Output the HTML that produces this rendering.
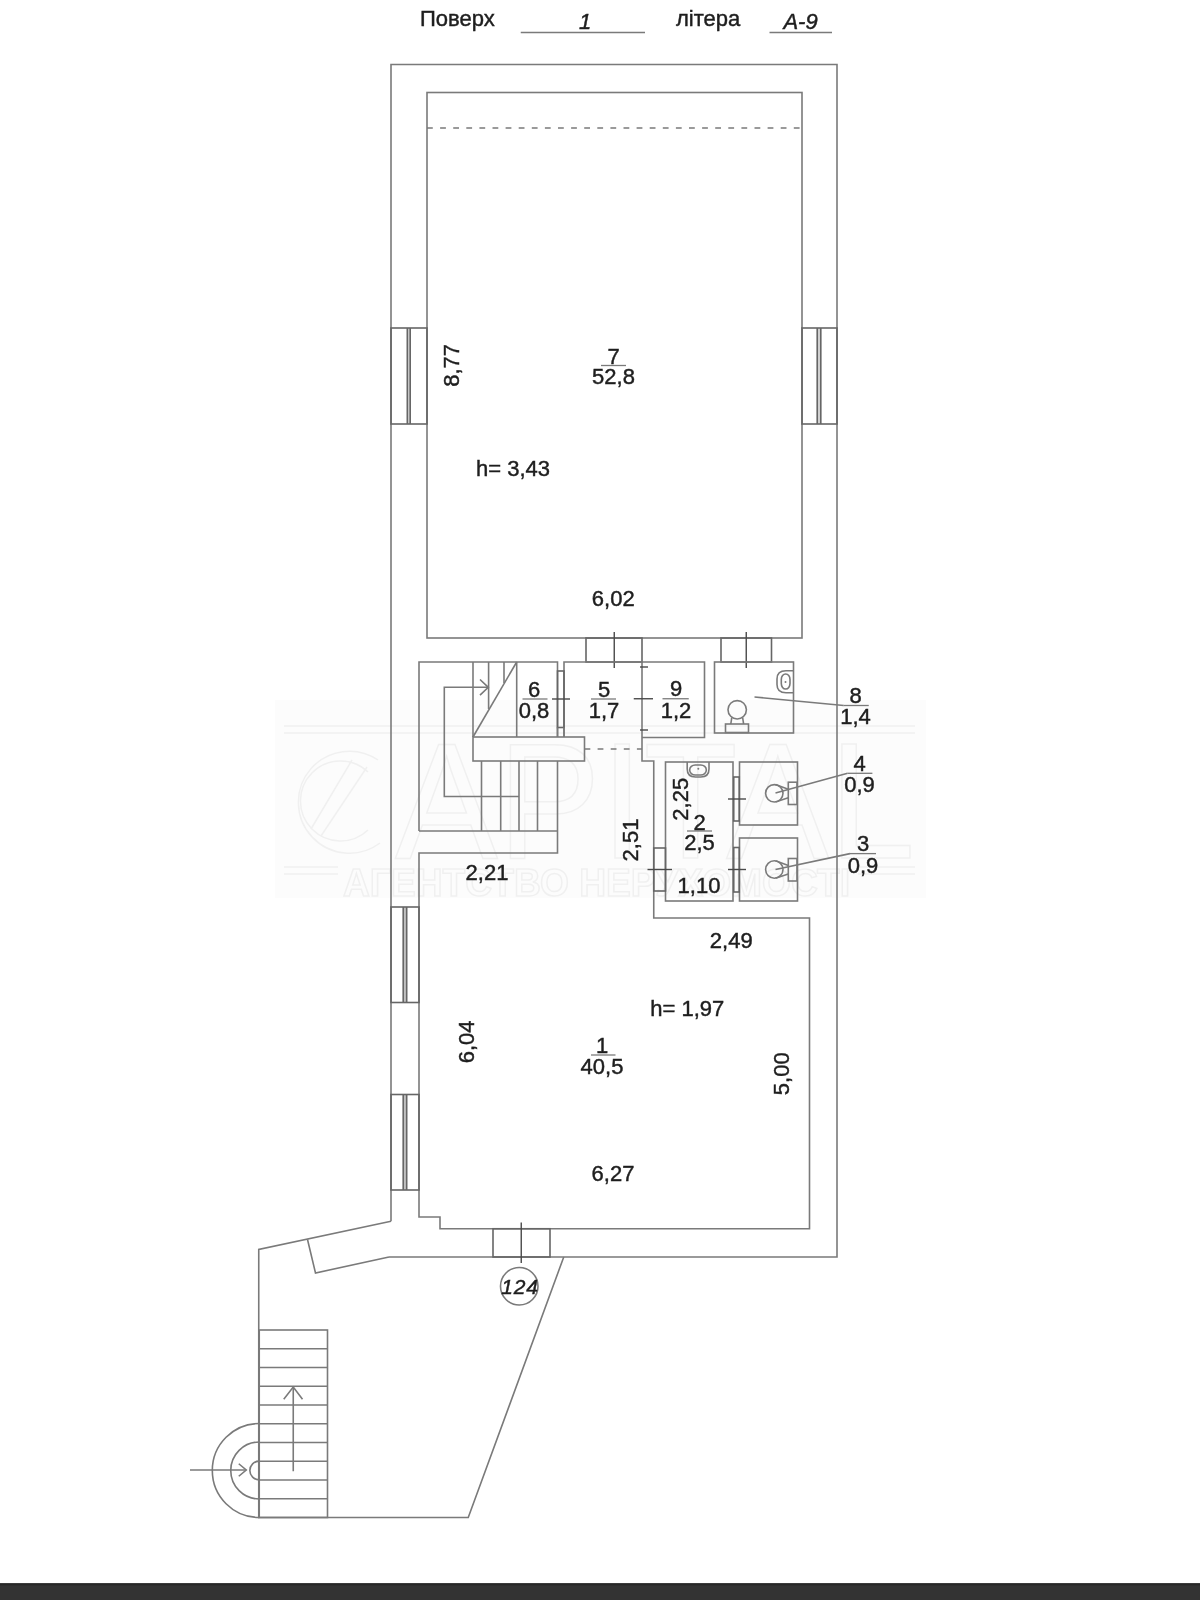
<!DOCTYPE html>
<html><head><meta charset="utf-8"><style>
html,body{margin:0;padding:0;background:#fff;width:1200px;height:1600px;overflow:hidden}
svg{display:block;will-change:transform}
.g line,.g polyline,.g polygon,.g rect,.g circle,.g ellipse,.g path{fill:none;stroke:#7a7a7a;stroke-width:1.6}
.g .dot{fill:#7a7a7a;stroke:none}
.g .dk{stroke:#666}
.g .tk{stroke:#4a4a4a;stroke-width:1.4}
.g .dash{stroke-dasharray:5.8 7.3}
.g .fl{stroke-width:1.3}
.t{font-family:"Liberation Sans",sans-serif;fill:#1e1e1e;stroke:#1e1e1e;stroke-width:0.45}
</style></head><body>
<svg width="1200" height="1600" viewBox="0 0 1200 1600">
<rect x="275" y="700" width="651" height="198" fill="#fcfcfc"/>
<g fill="none" stroke="#f0f0f0" stroke-width="1.5">
<line x1="284" y1="726" x2="915" y2="726"/><line x1="284" y1="733" x2="915" y2="733"/>
<line x1="284" y1="867" x2="338" y2="867"/><line x1="284" y1="874" x2="338" y2="874"/><line x1="858" y1="867" x2="915" y2="867"/><line x1="858" y1="874" x2="915" y2="874"/>
<path d="M378,760 A51,51 0 1 0 380,843 M368,772 A40,40 0 1 0 368,830"/>
<path d="M311,829 L352,760 M321,836 L367,767"/>
<text x="395" y="858" font-family="Liberation Sans" font-size="165" textLength="520" lengthAdjust="spacingAndGlyphs">APITAL</text>
<text x="343" y="896" font-family="Liberation Sans" font-weight="bold" font-size="38" textLength="507" lengthAdjust="spacingAndGlyphs">АГЕНТСТВО НЕРУХОМОСТІ</text>
</g>
<g class="g">
<polyline points="391,1221.25 391,64.5 837,64.5 837,1257 389,1257"/>
<rect x="427" y="92.5" width="375" height="545.5"/>
<line class="dash" x1="427" y1="128" x2="802" y2="128"/>
<rect x="407.3" y="328" width="2.9" height="96" style="fill:#d0d0d0;stroke:none"/>
<rect x="391" y="328" width="36" height="96" class="dk"/>
<line x1="407.3" y1="328" x2="407.3" y2="424" class="dk"/>
<line x1="410.2" y1="328" x2="410.2" y2="424" class="dk"/>
<rect x="817.2" y="328" width="3.6" height="96" style="fill:#d0d0d0;stroke:none"/>
<rect x="802" y="328" width="35" height="96" class="dk"/>
<line x1="817.2" y1="328" x2="817.2" y2="424" class="dk"/>
<line x1="820.8" y1="328" x2="820.8" y2="424" class="dk"/>
<rect x="586" y="638" width="56" height="24" class="dk"/>
<line x1="614.25" y1="632" x2="614.25" y2="668" class="tk"/>
<rect x="721" y="638" width="50.5" height="24" class="dk"/>
<line x1="746.25" y1="632" x2="746.25" y2="668" class="tk"/>
<polyline points="419,831 419,662 557.5,662 557.5,737"/>
<polyline points="557.5,761 557.5,853 419,853 419,1217 440,1217 440,1228.75 809.5,1228.75 809.5,918 653.75,918 653.75,761 642,761 642,662 564,662 564,737"/>
<line x1="419" y1="831" x2="557.5" y2="831"/>
<line x1="473" y1="662" x2="473" y2="737"/>
<line x1="516.7" y1="662" x2="516.7" y2="737"/>
<line x1="473" y1="737" x2="516.7" y2="662"/>
<line x1="488.6" y1="662" x2="488.6" y2="709"/>
<line x1="504" y1="662" x2="504" y2="683"/>
<polyline points="488.3,687.3 444.3,687.3 444.3,796.5 519,796.5"/>
<polyline points="480,679.5 488.3,687.3 480,695.2"/>
<rect x="473" y="737" width="111.5" height="24"/>
<line x1="481.5" y1="761" x2="481.5" y2="831"/>
<line x1="500.7" y1="761" x2="500.7" y2="831"/>
<line x1="519" y1="761" x2="519" y2="831"/>
<line x1="537.5" y1="761" x2="537.5" y2="831"/>
<rect x="557.5" y="671" width="6.5" height="56.5" class="dk"/>
<line x1="557.5" y1="727.5" x2="557.5" y2="737"/>
<line x1="564" y1="727.5" x2="564" y2="737"/>
<line x1="552" y1="699" x2="570" y2="699" class="tk"/>
<line class="dash" x1="584.5" y1="749" x2="642" y2="749"/>
<line x1="640" y1="667" x2="648" y2="667" class="tk"/>
<line x1="633.75" y1="698.75" x2="653" y2="698.75" class="tk"/>
<line x1="640" y1="730" x2="648" y2="730" class="tk"/>
<polyline points="642,662 704.5,662 704.5,737.5 642,737.5"/>
<rect x="714.5" y="662" width="79.0" height="71"/>
<path d="M793.3,670.8 H786 Q777,670.8 777,679 V684.5 Q777,692.8 786,692.8 H793.3"/>
<rect x="781.3" y="674" width="8.7" height="15" rx="4.3" ry="5.5"/>
<circle cx="785.5" cy="682" r="1" class="dot"/>
<circle cx="737.2" cy="709.8" r="9.2"/>
<line x1="731.8" y1="717.3" x2="730.8" y2="724"/>
<line x1="742.6" y1="717.3" x2="743.6" y2="724"/>
<rect x="725.5" y="724" width="23.0" height="8.5"/>
<line x1="754.5" y1="697" x2="843.75" y2="705.5"/>
<rect x="665.5" y="762" width="67.5" height="139"/>
<rect x="739.5" y="762" width="58.0" height="63"/>
<rect x="739.5" y="838" width="58.0" height="63"/>
<rect x="653.75" y="848" width="11.75" height="43" class="dk"/>
<line x1="647.5" y1="869.5" x2="672" y2="869.5" class="tk"/>
<rect x="733.75" y="777" width="5.5" height="44" class="dk"/>
<line x1="728" y1="799" x2="746" y2="799" class="tk"/>
<rect x="733.75" y="847.5" width="5.5" height="44.5" class="dk"/>
<line x1="728" y1="869.5" x2="746" y2="869.5" class="tk"/>
<path d="M687.2,762 V769 Q687.2,777 695.5,777 H700.7 Q709,777 709,769 V762"/>
<rect x="689.7" y="765" width="16.6" height="10" rx="5.5" ry="4.8"/>
<circle cx="698.3" cy="768.7" r="1" class="dot"/>
<circle cx="774.3" cy="793.3" r="8.7"/>
<line x1="775.5" y1="784.5999999999999" x2="788.3" y2="789.3"/>
<line x1="775.5" y1="802.0" x2="788.3" y2="797.8"/>
<rect x="788.3" y="782.2" width="8.7" height="22.3"/>
<circle cx="774.3" cy="869.5" r="8.7"/>
<line x1="775.5" y1="860.8" x2="788.3" y2="865.5"/>
<line x1="775.5" y1="878.2" x2="788.3" y2="874.0"/>
<rect x="788.3" y="858.5" width="8.7" height="22.5"/>
<line x1="775.5" y1="793" x2="847.6" y2="773.3"/>
<line x1="775.5" y1="869.5" x2="850" y2="853.6"/>
<rect x="403.2" y="907" width="3.5" height="95.5" style="fill:#c0c0c0;stroke:none"/>
<rect x="391" y="907" width="28" height="95.5" class="dk"/>
<line x1="403.2" y1="907" x2="403.2" y2="1002.5" class="dk"/>
<line x1="406.7" y1="907" x2="406.7" y2="1002.5" class="dk"/>
<rect x="403.2" y="1094.5" width="3.5" height="95.5" style="fill:#c0c0c0;stroke:none"/>
<rect x="391" y="1094.5" width="28" height="95.5" class="dk"/>
<line x1="403.2" y1="1094.5" x2="403.2" y2="1190" class="dk"/>
<line x1="406.7" y1="1094.5" x2="406.7" y2="1190" class="dk"/>
<rect x="493" y="1228.75" width="57" height="28.25" class="dk"/>
<line x1="521.25" y1="1222.5" x2="521.25" y2="1263" class="tk"/>
<circle cx="519.25" cy="1286.25" r="18.75"/>
<polyline points="391,1221.25 258.75,1249.5 258.75,1517.5 468.25,1517.5 563.75,1257"/>
<polyline points="389,1257 315.5,1273 307.5,1239.5"/>
<rect x="259.25" y="1330" width="68.25" height="187.5"/>
<line x1="259.25" y1="1348.75" x2="327.5" y2="1348.75"/>
<line x1="259.25" y1="1367.5" x2="327.5" y2="1367.5"/>
<line x1="259.25" y1="1386.25" x2="327.5" y2="1386.25"/>
<line x1="259.25" y1="1405.0" x2="327.5" y2="1405.0"/>
<line x1="259.25" y1="1423.75" x2="327.5" y2="1423.75"/>
<line x1="259.25" y1="1442.5" x2="327.5" y2="1442.5"/>
<line x1="259.25" y1="1461.25" x2="327.5" y2="1461.25"/>
<line x1="259.25" y1="1480.0" x2="327.5" y2="1480.0"/>
<line x1="259.25" y1="1498.75" x2="327.5" y2="1498.75"/>
<line x1="293.25" y1="1471.25" x2="293.25" y2="1387"/>
<polyline points="283.75,1399.25 293.25,1387 302.5,1399.25"/>
<path d="M259.25,1423.5 A47,47 0 0 0 259.25,1517.5"/>
<path d="M259.25,1442.0 A28.5,28.5 0 0 0 259.25,1499.0"/>
<path d="M259.25,1461.1 A9.4,9.4 0 0 0 259.25,1479.9"/>
<line x1="190" y1="1470" x2="246.25" y2="1470"/>
<polyline points="238.75,1463.75 246.25,1470 238.75,1476.25"/>
<line x1="520.75" y1="32.5" x2="645" y2="32.5"/>
<line x1="769.5" y1="32.5" x2="832" y2="32.5"/>
<line class="fl" x1="601" y1="365.5" x2="626" y2="365.5"/>
<line class="fl" x1="522.5" y1="699" x2="547.5" y2="699"/>
<line class="fl" x1="591" y1="699" x2="616" y2="699"/>
<line class="fl" x1="662.5" y1="698.75" x2="688.75" y2="698.75"/>
<line class="fl" x1="843.75" y1="705.5" x2="868.75" y2="705.5"/>
<line class="fl" x1="847.6" y1="773.3" x2="872.4" y2="773.3"/>
<line class="fl" x1="850" y1="853.6" x2="876" y2="853.6"/>
<line class="fl" x1="687" y1="831" x2="712" y2="831"/>
<line class="fl" x1="591" y1="1055" x2="615.5" y2="1055"/>
</g>
<text class="t" x="420" y="26" font-size="22">Поверх</text>
<text class="t" x="676" y="26" font-size="22">літера</text>
<text class="t" x="585.0" y="29" font-size="22" text-anchor="middle" font-style="italic">1</text>
<text class="t" x="800.5" y="29" font-size="22" text-anchor="middle" font-style="italic">A-9</text>
<text class="t" x="613.5" y="364" font-size="22" text-anchor="middle">7</text>
<text class="t" x="613.5" y="384" font-size="22" text-anchor="middle">52,8</text>
<text class="t" x="0" y="0" font-size="22" text-anchor="middle" transform="translate(458.5,365.325) rotate(-90)">8,77</text>
<text class="t" x="513.0" y="475.5" font-size="22" text-anchor="middle">h= 3,43</text>
<text class="t" x="613.25" y="606" font-size="22" text-anchor="middle">6,02</text>
<text class="t" x="534" y="697" font-size="22" text-anchor="middle">6</text>
<text class="t" x="534" y="717.5" font-size="22" text-anchor="middle">0,8</text>
<text class="t" x="604" y="697" font-size="22" text-anchor="middle">5</text>
<text class="t" x="604" y="717.5" font-size="22" text-anchor="middle">1,7</text>
<text class="t" x="676" y="696" font-size="22" text-anchor="middle">9</text>
<text class="t" x="676" y="717.5" font-size="22" text-anchor="middle">1,2</text>
<text class="t" x="855.5" y="702.5" font-size="22" text-anchor="middle">8</text>
<text class="t" x="855.5" y="724" font-size="22" text-anchor="middle">1,4</text>
<text class="t" x="859.5" y="771" font-size="22" text-anchor="middle">4</text>
<text class="t" x="859.5" y="792" font-size="22" text-anchor="middle">0,9</text>
<text class="t" x="863" y="851" font-size="22" text-anchor="middle">3</text>
<text class="t" x="863" y="872.5" font-size="22" text-anchor="middle">0,9</text>
<text class="t" x="0" y="0" font-size="22" text-anchor="middle" transform="translate(688,799.25) rotate(-90)">2,25</text>
<text class="t" x="699.5" y="829.5" font-size="22" text-anchor="middle">2</text>
<text class="t" x="699.5" y="850" font-size="22" text-anchor="middle">2,5</text>
<text class="t" x="0" y="0" font-size="22" text-anchor="middle" transform="translate(637.7,840.0) rotate(-90)">2,51</text>
<text class="t" x="699.0" y="892.5" font-size="22" text-anchor="middle">1,10</text>
<text class="t" x="487.0" y="879.5" font-size="22" text-anchor="middle">2,21</text>
<text class="t" x="731.25" y="947.5" font-size="22" text-anchor="middle">2,49</text>
<text class="t" x="687.25" y="1015.5" font-size="22" text-anchor="middle">h= 1,97</text>
<text class="t" x="602" y="1053" font-size="22" text-anchor="middle">1</text>
<text class="t" x="602" y="1073.75" font-size="22" text-anchor="middle">40,5</text>
<text class="t" x="0" y="0" font-size="22" text-anchor="middle" transform="translate(473.9,1041.85) rotate(-90)">6,04</text>
<text class="t" x="0" y="0" font-size="22" text-anchor="middle" transform="translate(789.1,1073.8000000000002) rotate(-90)">5,00</text>
<text class="t" x="613.0" y="1181" font-size="22" text-anchor="middle">6,27</text>
<text class="t" x="520" y="1293.5" font-size="21" font-style="italic" text-anchor="middle" letter-spacing="0.8">124</text>
<rect x="0" y="1583.3" width="1200" height="16.7" fill="#333"/>
<rect x="0" y="1583.3" width="1200" height="2" fill="#272727"/>
</svg>
</body></html>
